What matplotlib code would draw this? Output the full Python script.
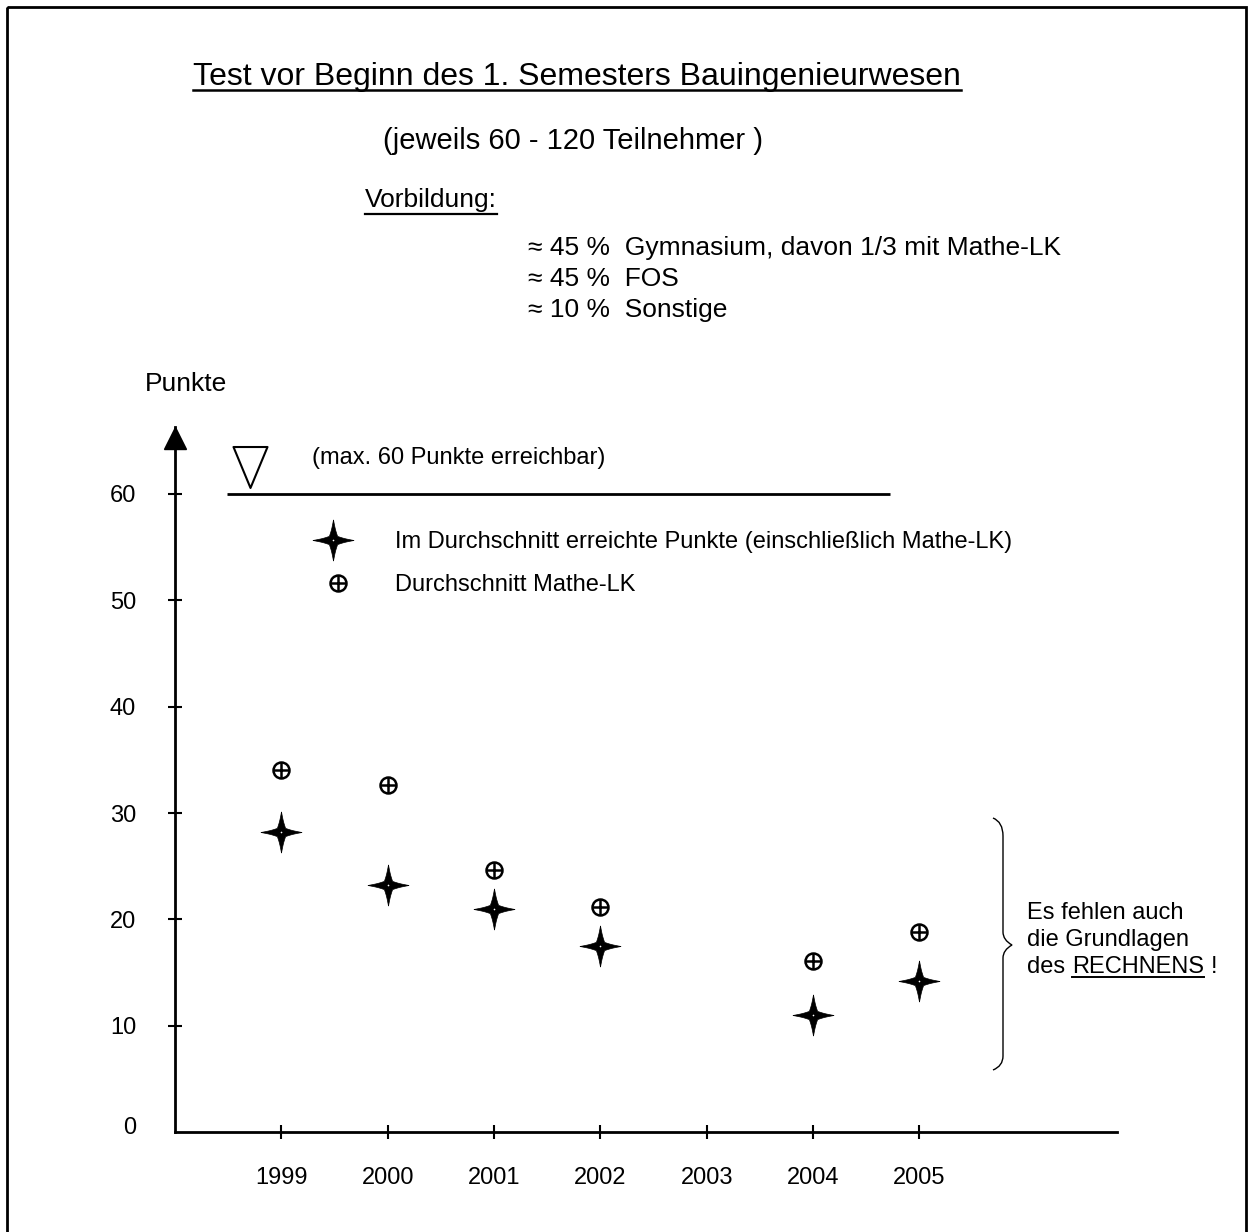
import numpy as np
import matplotlib
matplotlib.use('Agg')
import matplotlib.pyplot as plt
from matplotlib.path import Path
from matplotlib.patches import PathPatch, Rectangle
import matplotlib.transforms as mtransforms
from matplotlib.lines import Line2D

# ---------------- data ----------------
years = [1999, 2000, 2001, 2002, 2004, 2005]
avg_points = [28.2, 23.2, 21.0, 17.5, 11.0, 14.2]      # Im Durchschnitt erreichte Punkte
mathe_lk = [34.0, 32.6, 24.6, 21.2, 16.1, 18.8]        # Durchschnitt Mathe-LK
x_ticks = [1999, 2000, 2001, 2002, 2003, 2004, 2005]
y_ticks = [0, 10, 20, 30, 40, 50, 60]
max_points = 60

plt.rcParams['font.family'] = ['Liberation Sans', 'DejaVu Sans']

W, H = 1253, 1232
fig = plt.figure(figsize=(W / 100, H / 100), dpi=100)
PX = mtransforms.Affine2D().scale(1 / W, -1 / H).translate(0, 1) + fig.transFigure
renderer = fig.canvas.get_renderer()

# frame around the page
fig.patches.append(Rectangle((7, 7), 1239, 1240, transform=PX, fill=False,
                             lw=2, ec='black', clip_on=False))

# ---------------- axes ----------------
x0_px, x1_px, y0_px, ytop_px = 175, 1117, 1132, 427
scale_y = (1132 - 494) / 60.0
scale_x = 106.33
ax = fig.add_axes([x0_px / W, 1 - y0_px / H, (x1_px - x0_px) / W, (y0_px - ytop_px) / H])
ax.set_xlim(1998, 1998 + (x1_px - x0_px) / scale_x)
ax.set_ylim(0, (y0_px - ytop_px) / scale_y)
for s in ['top', 'right']:
    ax.spines[s].set_visible(False)
ax.spines['left'].set_linewidth(2)
ax.spines['bottom'].set_linewidth(2)
ax.set_xticks(x_ticks)
ax.set_yticks(y_ticks)
ax.tick_params(direction='inout', length=10, width=1.5, labelsize=17, colors='black')
ax.tick_params(axis='y', pad=23)
ax.tick_params(axis='x', pad=20)
tick0 = ax.yaxis.get_major_ticks()[0]
tick0.tick1line.set_visible(False)
tick0.label1.set_transform(tick0.label1.get_transform() +
                           mtransforms.ScaledTranslation(0, 7 / 100, fig.dpi_scale_trans))
ax.patch.set_alpha(0)

# arrow head on y axis
ylim_top = ax.get_ylim()[1]
ax.plot([1998], [ylim_top - 10.5 / scale_y], marker='^', ms=16, color='black',
        clip_on=False, zorder=5)

# max line and triangle
ax.hlines(max_points, 1998.49, 2004.72, colors='black', lw=2)
tri = Path([(-0.83, 1), (0.83, 1), (0, -1), (-0.83, 1)],
           [Path.MOVETO, Path.LINETO, Path.LINETO, Path.CLOSEPOLY])
ax.plot([1998.705], [max_points + 2.5], marker=tri, ms=29.5, mfc='none', mec='black',
        mew=1.5, clip_on=False)

# star marker (four-pointed, slightly concave arms)
pts = []
n = 20
for k in range(4):
    ang = k * np.pi / 2
    tip = np.array([np.cos(ang), np.sin(ang)])
    nxt = np.array([np.cos(ang + np.pi / 2), np.sin(ang + np.pi / 2)])
    inner = 0.2 * (tip + nxt)
    for s in np.linspace(0, 1, n, endpoint=False):
        p = (1 - s) * tip + s * inner
        p = p * (1 - 0.08 * np.sin(np.pi * s))
        pts.append(p)
    for s in np.linspace(0, 1, n, endpoint=False):
        p = (1 - s) * inner + s * nxt
        p = p * (1 - 0.08 * np.sin(np.pi * s))
        pts.append(p)
pts.append(pts[0])
star = Path(np.array(pts), closed=True)

ax.plot(years, avg_points, linestyle='none', marker=star, ms=29.5, color='black',
        mew=0.5, clip_on=False)
ax.plot(years, avg_points, linestyle='none', marker='o', ms=1.2, color='white', mew=0)

ax.plot(years, mathe_lk, linestyle='none', marker='o', ms=11.5, mfc='none',
        mec='black', mew=1.8)
ax.plot(years, mathe_lk, linestyle='none', marker='+', ms=11.5, color='black', mew=1.8)

# legend (manual)
lx_star = 1998 + (333 - 175) / scale_x
ly_star = (1132 - 540) / scale_y
lx_circ = 1998 + (338 - 175) / scale_x
ly_circ = (1132 - 583) / scale_y
ax.plot([lx_star], [ly_star], linestyle='none', marker=star, ms=29.5, color='black', mew=0.5)
ax.plot([lx_star], [ly_star], linestyle='none', marker='o', ms=1.2, color='white', mew=0)
ax.plot([lx_circ], [ly_circ], linestyle='none', marker='o', ms=11.5, mfc='none',
        mec='black', mew=1.8)
ax.plot([lx_circ], [ly_circ], linestyle='none', marker='+', ms=11.5, color='black', mew=1.8)


def txt(x, y, s, size, **kw):
    return fig.text(x, y, s, fontsize=size, transform=PX, va='baseline', ha='left', **kw)


def underline(tobj, y, lw=1.6):
    bb = tobj.get_window_extent(renderer)
    fig.lines.append(Line2D([bb.x0 / W, bb.x1 / W], [1 - y / H, 1 - y / H],
                            transform=fig.transFigure, color='black', lw=lw))


txt(395, 548, 'Im Durchschnitt erreichte Punkte (einschließlich Mathe-LK)', 17)
txt(395, 591, 'Durchschnitt Mathe-LK', 17)
txt(312, 464, '(max. 60 Punkte erreichbar)', 17)

# header texts
t_title = txt(193, 85, 'Test vor Beginn des 1. Semesters Bauingenieurwesen', 23)
underline(t_title, 90, lw=1.8)
txt(383, 149, '(jeweils 60 - 120 Teilnehmer )', 21)
t_vor = txt(365, 207, 'Vorbildung:', 19)
underline(t_vor, 214)
txt(528, 255, '≈ 45 %  Gymnasium, davon 1/3 mit Mathe-LK', 19)
txt(528, 286, '≈ 45 %  FOS', 19)
txt(528, 317, '≈ 10 %  Sonstige', 19)
txt(145, 391, 'Punkte', 19)

# brace
bv = [(993, 818), (1003, 822), (1003, 836), (1003, 932), (1003, 940), (1012, 945),
      (1003, 950), (1003, 958), (1003, 1056), (1003, 1066), (993, 1070)]
bc = [Path.MOVETO, Path.CURVE3, Path.CURVE3, Path.LINETO, Path.CURVE3, Path.CURVE3,
      Path.CURVE3, Path.CURVE3, Path.LINETO, Path.CURVE3, Path.CURVE3]
fig.patches.append(PathPatch(Path(bv, bc), transform=PX, fill=False, lw=1.0, ec='black'))

txt(1027, 919, 'Es fehlen auch', 17)
txt(1027, 946, 'die Grundlagen', 17)
t_des = txt(1027, 973, 'des', 17)
bb = t_des.get_window_extent(renderer)
t_rech = txt(bb.x1 + 7, 973, 'RECHNENS', 17)
underline(t_rech, 977, lw=1.4)
bb2 = t_rech.get_window_extent(renderer)
txt(bb2.x1 + 7, 973, '!', 17)

fig.savefig('out.png', dpi=100, facecolor='white')
